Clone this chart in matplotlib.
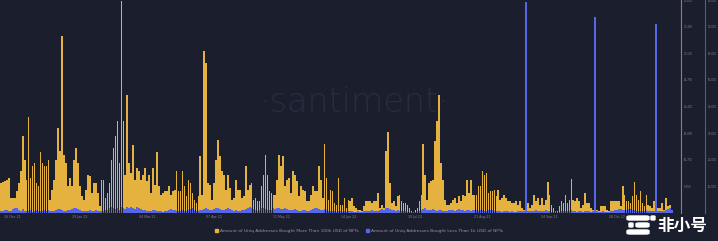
import numpy as np
import pandas as pd
import matplotlib
matplotlib.use("Agg")
import matplotlib.pyplot as plt
from matplotlib.patches import Patch, FancyBboxPatch

# daily series
start_date = "2021-12-20"

whales_100k = [
    # part 1
    6030, 6160, 6370, 6700, 7040, 3000, 3000, 3000, 4360, 6030,
    8380, 15410, 10720, 6700, 19300, 7040, 9380, 10050, 6030, 5360,
    12190, 10050, 9380, 9380, 10720, 2680, 4690, 6700, 10720, 17090,
    12400, 35640, 11730, 10050, 5360, 7040, 5360, 10720, 13070, 10050,
    5360, 3350, 2680, 4690, 7700, 7500, 4020, 6030, 6030, 4020,
    1340, 6700, 6700, 3000, 4020, 6030, 10720, 13070, 15410, 18430,
    10050, 42550, 18430, 7700, 23790, 10050, 8040, 13740, 6700, 9050,
    8380, 6700, 7700, 9050, 6370, 7700, 4020, 9050, 5700, 12190,
    5360, 3690, 4020, 4360, 4360, 5360, 3690, 4360, 4690, 8380,
    4360, 4360, 8380, 5360, 3350, 6700, 6030, 4020, 2680, 2010,
    3350, 11520, 3690, 32500, 30150, 6030, 5700, 2680, 6030, 10720,
    14740, 11520, 8380, 7700, 4690, 7700, 5030, 2680, 3000, 6700,
    4690, 4690,
    # part 2
    3000, 3350, 9380, 4690, 5700, 6030, 2680, 3000, 2350, 2350,
    5360, 7700, 11730, 7700, 4360, 4020, 3690, 3690, 6700, 11730,
    9380, 11520, 5360, 6700, 7040, 4020, 8380, 7700, 6370, 3350,
    5360, 4690, 4360, 2350, 2350, 3690, 5360, 4360, 4360, 9380,
    6700, 3000, 13940, 7040, 2680, 4690, 4360, 2010, 1680, 7040,
    1680, 1680, 3000, 1000, 2680, 2350, 3000, 1340, 1000, 670,
    670, 340, 1340, 2350, 2350, 2350, 2010, 2350, 2350, 4020,
    1000, 1680, 1000, 12400, 16210, 6030, 2010, 2350, 1340, 3350,
    3690, 2350, 2010, 2010, 1680, 1000, 340, 0, 670, 1000,
    2350, 3690, 13940, 7700, 2680, 6030, 6370, 6700, 14410, 18430,
    23790, 10050, 6700, 2680, 1680, 1680, 2010, 2680, 3000, 2010,
    3350, 2350, 3690, 3350, 6700, 4020, 6700, 3690, 3690, 3690,
    5360,
    # part 3
    5360, 8380, 7700, 8040, 4020, 4360, 4360, 4690, 3350, 4690,
    2680, 3000, 3690, 3000, 2350, 2350, 2010, 2010, 2350, 1680,
    2350, 1000, 670, 670, 2010, 1000, 1680, 3690, 2350, 3000,
    1680, 3000, 1680, 2680, 6160, 3690, 1680, 1000, 340, 340,
    1340, 2350, 2010, 3690, 2010, 2680, 6830, 2680, 2350, 3000,
    2350, 1000, 1680, 4020, 2010, 2010, 1000, 670, 670, 670,
    340, 1340, 1340, 1340, 670, 340, 2350, 2350, 2350, 2350,
    2350, 1340, 5360, 3690, 2350, 2350, 2010, 3350, 6160, 3690,
    2680, 4360, 2010, 1340, 3690, 1680, 1340, 1000, 2350, 1000,
    1000, 1000, 2010, 670, 3000, 1340, 1680, 340,
]

small_1k = [
    # part 1
    900, 750, 1100, 1300, 800, 600, 1500, 1700, 1900, 1200,
    800, 1400, 700, 600, 900, 1100, 500, 800, 1300, 700,
    600, 900, 1200, 800, 1000, 700, 600, 900, 1100, 1400,
    1600, 1300, 900, 700, 1000, 1200, 1500, 1900, 1700, 1400,
    1100, 900, 700, 800, 600, 1000, 900, 700, 1200, 800,
    600, 700, 900, 1100, 1300, 1700, 2100, 1800, 1500, 1900,
    1300, 2200, 1900, 1600, 2300, 2000, 2400, 1700, 1400, 2100,
    1900, 1500, 1100, 1300, 900, 700, 800, 1000, 1300, 900,
    800, 600, 500, 700, 900, 1200, 1600, 1300, 1000, 800,
    600, 900, 1100, 800, 700, 1000, 1400, 1700, 1200, 900,
    800, 1100, 1300, 1600, 1900, 1500, 1200, 1000, 1400, 1700,
    2000, 1600, 1300, 1100, 1500, 1800, 1400, 1000, 800, 1100,
    900, 700,
    # part 2
    1000, 1200, 1500, 1900, 2100, 1800, 1400, 1100, 900, 1300,
    1700, 2000, 1600, 1300, 1000, 1200, 1800, 1500, 1700, 2000,
    1600, 1400, 1900, 1500, 1200, 1000, 1300, 1600, 1100, 900,
    800, 1000, 1300, 900, 700, 1100, 1500, 1700, 1900, 1400,
    1200, 1000, 1400, 1100, 800, 600, 900, 700, 500, 800,
    600, 500, 700, 400, 600, 800, 700, 500, 400, 600,
    500, 400, 600, 800, 700, 900, 1000, 800, 600, 900,
    1200, 1500, 1300, 1700, 1900, 1600, 1200, 1000, 800, 1100,
    900, 700, 600, 800, 500, 400, 300, 300, 500, 700,
    900, 1300, 1500, 1700, 1300, 1000, 1200, 1400, 1100, 900,
    1200, 1000, 800, 700, 900, 1100, 1300, 1000, 800, 1200,
    1500, 1300, 1100, 900, 1200, 1000, 800, 1000, 1300, 1100,
    900,
    # part 3
    1000, 1200, 900, 800, 1100, 1300, 1000, 800, 600, 900,
    700, 500, 600, 800, 700, 500, 600, 400, 500, 700,
    600, 800, 900, 79300, 700, 600, 800, 900, 1100, 900,
    700, 600, 800, 1000, 900, 700, 500, 400, 600, 500,
    400, 600, 800, 700, 600, 900, 1100, 900, 700, 500,
    600, 700, 500, 600, 800, 700, 500, 600, 73700, 700,
    500, 400, 600, 500, 400, 500, 700, 900, 1100, 1300,
    1500, 1400, 1200, 1000, 1300, 1600, 1400, 1200, 1000, 800,
    900, 700, 600, 800, 1000, 900, 700, 600, 800, 71000,
    800, 600, 700, 900, 1200, 1600, 1900, 1300,
]

y_top_100k = 42800
y_top_1k = 80000
tick_every = 34

BG = "#1b1e2d"
YELLOW = "#e6b23f"
BLUE = "#5566e8"
TXT = "#7d8297"

n = len(whales_100k)
dates = pd.date_range(start_date, periods=n, freq="D")
x = np.arange(n)

fig = plt.figure(figsize=(7.18, 2.41), dpi=100, facecolor=BG)
ax = fig.add_axes([0.0, 28 / 241, 673 / 718, 213 / 241])
ax.set_facecolor(BG)

# watermark behind the bars
ax.text(0.527, 0.52, "·santiment·", transform=ax.transAxes, ha="center", va="center",
        fontsize=24, color="#282c3e", fontweight="light", zorder=0)

ax.bar(x, whales_100k, width=0.85, color=YELLOW, linewidth=0, zorder=2)
ax.set_xlim(-0.5, n - 0.5)
ax.set_ylim(0, y_top_100k)

ax2 = ax.twinx()
ax2.bar(x, small_1k, width=0.85, color=BLUE, linewidth=0, zorder=3)
ax2.set_ylim(0, y_top_1k)

for a in (ax, ax2):
    for s in ("top", "left", "bottom"):
        a.spines[s].set_visible(False)

# two right hand scales, one for each series
ax.yaxis.tick_right()
ax.spines["right"].set_position(("outward", 6))
ax.spines["right"].set_color("#8c8468")
ax.spines["right"].set_linewidth(0.8)
step1 = y_top_100k / 8
ax.set_yticks([step1 * k for k in range(1, 9)])
ax.set_yticklabels([f"{step1 * k:,.0f}" for k in range(1, 9)])
ax.tick_params(axis="y", length=0, pad=2, labelsize=1.9, labelcolor=TXT)

ax2.spines["right"].set_position(("outward", 23))
ax2.spines["right"].set_color("#4b57b5")
ax2.spines["right"].set_linewidth(0.8)
step2 = y_top_1k / 8
ax2.set_yticks([step2 * k for k in range(1, 9)])
ax2.set_yticklabels([f"{step2 * k:,.0f}" for k in range(1, 9)])
ax2.tick_params(axis="y", length=0, pad=2, labelsize=1.9, labelcolor=TXT)

ticks = x[6::tick_every]
ax.set_xticks(ticks)
ax.set_xticklabels([dates[i].strftime("%d %b %y") for i in ticks])
ax.tick_params(axis="x", length=0, pad=1.5, labelsize=2.3, labelcolor=TXT)

handles = [Patch(color=YELLOW, label="Amount of Uniq Addresses Bought More Than 100k USD of NFTs"),
           Patch(color=BLUE, label="Amount of Uniq Addresses Bought Less Than 1k USD of NFTs")]
fig.legend(handles=handles, loc="center", bbox_to_anchor=(0.5, 1 - 231 / 241), ncol=2,
           frameon=False, fontsize=3.2, handlelength=0.7, handleheight=0.7,
           handletextpad=0.5, columnspacing=1.6, labelcolor="#9094a6")

# host logo in the corner
for bx, by, bw in [(627, 216, 22), (636, 223, 13), (627, 230, 22)]:
    fig.patches.append(FancyBboxPatch((bx / 718, 1 - (by + 4) / 241), bw / 718, 4 / 241,
                                      boxstyle="round,pad=0,rounding_size=0.004",
                                      transform=fig.transFigure, color="white", zorder=5))
for dx, dy in [(651, 218), (629, 225)]:
    fig.patches.append(FancyBboxPatch((dx / 718, 1 - dy / 241 - 2 / 241), 4 / 718, 4 / 241,
                                      boxstyle="round,pad=0,rounding_size=0.002",
                                      transform=fig.transFigure, color="white", zorder=5))
fig.text(682 / 718, 1 - 226 / 241, "非小号", ha="center", va="center", fontsize=12,
         fontweight="bold", color="white", family=["Noto Sans CJK SC", "DejaVu Sans"])

fig.savefig("out.png", dpi=100, facecolor=BG)
